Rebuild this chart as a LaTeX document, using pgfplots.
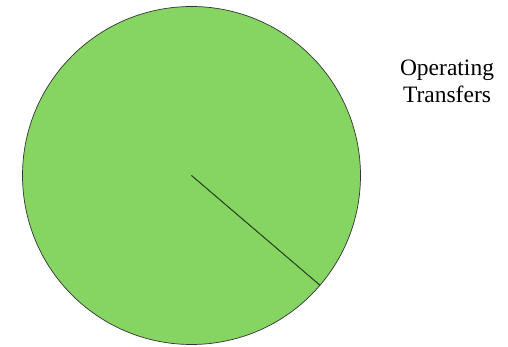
\documentclass[border=0pt]{standalone}
\usepackage{pgfplots}
\pgfplotsset{compat=1.18}
\usepackage{pgfplotstable}
\usepackage{fontspec}
\setmainfont{Liberation Serif}
\definecolor{piegreen}{RGB}{134,212,98}
\definecolor{edgegreen}{RGB}{40,80,30}
\pgfplotstableread{
category value
Operating 100
}\piedata
\begin{document}
\begin{tikzpicture}[x=1pt,y=1pt]
\path[use as bounding box] (0,0) rectangle (508,347);
\pgfplotstablegetelem{0}{value}\of\piedata
\pgfmathsetmacro{\startang}{-40.5}
\pgfmathsetmacro{\sweep}{\pgfplotsretval/100*360}
\begin{axis}[
  at={(22.5pt,2.5pt)}, anchor=south west,
  scale only axis, width=338pt, height=338pt,
  xmin=-1, xmax=1, ymin=-1, ymax=1,
  hide axis, clip=false]
\filldraw[fill=piegreen, draw=black!80, line width=0.7pt]
  (axis cs:0,0) -- ++(\startang:169pt) arc[start angle=\startang, delta angle=\sweep, radius=169pt] -- cycle;
\draw[edgegreen, line width=0.9pt] (axis cs:0,0) -- ++(\startang:169pt);
\end{axis}
\node[align=center, font=\fontsize{23.5}{27}\selectfont, anchor=north, inner sep=0pt]
  at (447,287) {Operating\\Transfers};
\end{tikzpicture}
\end{document}
